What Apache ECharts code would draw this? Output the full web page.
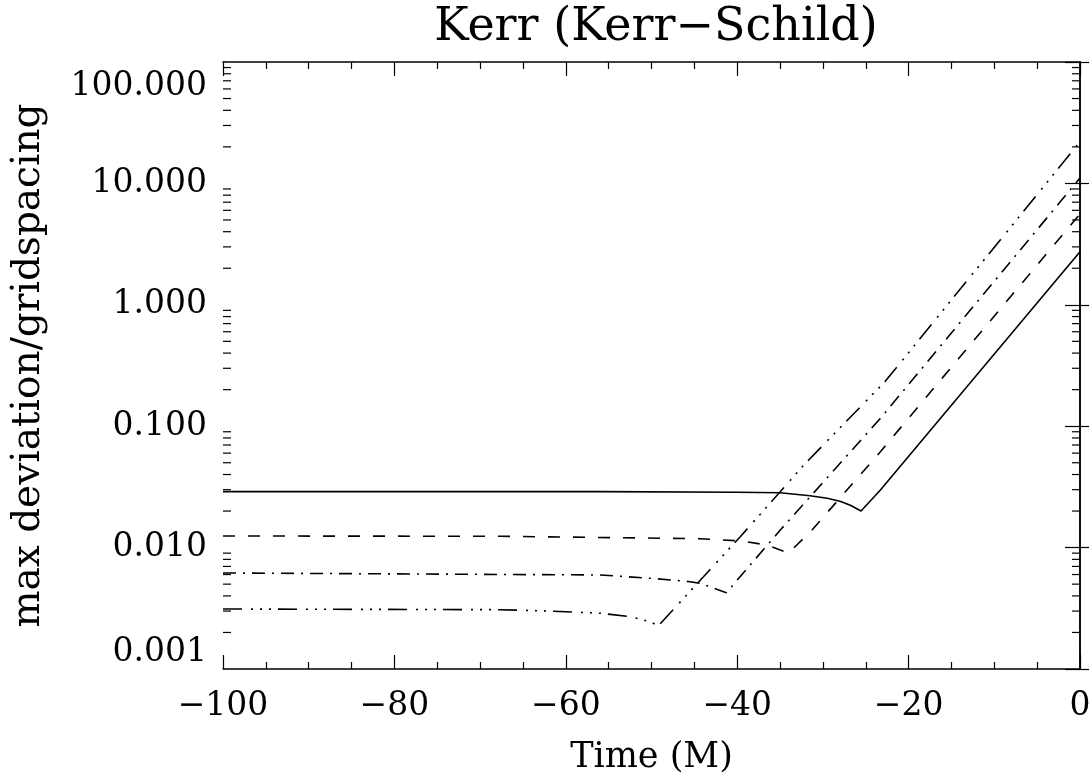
<!DOCTYPE html>
<html><head><meta charset="utf-8">
<script src="https://cdn.jsdelivr.net/npm/echarts@6/dist/echarts.min.js"></script>
<style>html,body{margin:0;padding:0;background:#fff}#c{width:1089px;height:774px}</style>
</head><body><div id="c"></div>
<script>
const titleText = 'Kerr (Kerr\u2212Schild)';
const xName = 'Time (M)';
const yName = 'max deviation/gridspacing';
const xMin = -100, xMax = 0, xStep = 20;
const yMin = 0.001, yMax = 100;
const yDecades = [0.001, 0.01, 0.1, 1, 10];
const yMinorMantissas = [2, 3, 4, 5, 6, 7, 8, 9];

// solid
const solidT = [-100, -56, -40, -35, -31.5, -29.5, -28, -26.8, -25.55, -23.29, 0];
const solidV = [0.0289, 0.0289, 0.0286, 0.0283, 0.0267, 0.0255, 0.0241, 0.0223, 0.0200, 0.0298, 2.74];
// dashed
const dashT = [-100, -67.7, -44.3, -39.6, -36.5, -34.0, -31.27, -23.29, 0];
const dashV = [0.01246, 0.0124, 0.01184, 0.01134, 0.0105, 0.00902, 0.01396, 0.0616, 5.6];
// dash-dot
const ddT = [-100, -56, -50.15, -45.5, -44.3, -41.27, -34.97, -23.29, 0];
const ddV = [0.00618, 0.00595, 0.00559, 0.00524, 0.00508, 0.00425, 0.01396, 0.116, 11.07];
// dash-dot-dot-dot
const d3T = [-100, -67.7, -61.8, -56, -52.5, -50.15, -49.2, -39.64, -32.05, -22.75, 0];
const d3V = [0.00312, 0.00308, 0.00300, 0.00288, 0.0027, 0.00245, 0.00227, 0.0123, 0.0494, 0.233, 22.0];

const zip = (t, v) => t.map((x, i) => [x, v[i]]);
const minorData = [];
yDecades.forEach(d => yMinorMantissas.forEach(m => minorData.push([xMin, d * m])));

const FONT = 'DejaVu Serif';
const axisLineStyle = { lineStyle: { color: '#000', width: 1.5 } };

const xAxisBase = {
  type: 'value', min: xMin, max: xMax, interval: xStep,
  axisLine: axisLineStyle, splitLine: { show: false },
  axisTick: { inside: true, length: 14, lineStyle: { color: '#000', width: 1.2 } },
  minorTick: { show: true, splitNumber: 4, length: 7, lineStyle: { color: '#000', width: 1.2 } },
  minorSplitLine: { show: false }
};
const yAxisBase = {
  type: 'log', logBase: 10, min: yMin, max: yMax, splitNumber: 5,
  axisLine: axisLineStyle, splitLine: { show: false },
  axisTick: { inside: true, length: 15, lineStyle: { color: '#000', width: 1.2 } },
  minorTick: { show: false }
};

const chart = echarts.init(document.getElementById('c'), null, { renderer: 'canvas' });
chart.setOption({
  animation: false,
  backgroundColor: '#fff',
  title: {
    text: titleText, left: 651, top: 0, textAlign: 'center',
    textStyle: { fontFamily: FONT, fontSize: 46, fontWeight: 'normal', color: '#000' }
  },
  grid: { left: 223, right: 9, top: 62, bottom: 105, containLabel: false, outerBoundsMode: 'none' },
  xAxis: [
    Object.assign({}, xAxisBase, {
      position: 'bottom',
      name: xName, nameLocation: 'middle', nameGap: 71,
      nameTextStyle: { fontFamily: FONT, fontSize: 35, color: '#000' },
      axisLabel: {
        margin: 21, color: '#000', fontFamily: FONT, fontSize: 33,
        formatter: v => (v < 0 ? '\u2212' + Math.abs(v) : String(v))
      }
    }),
    Object.assign({}, xAxisBase, { position: 'top', axisLabel: { show: false } })
  ],
  yAxis: [
    Object.assign({}, yAxisBase, {
      position: 'left',
      name: yName, nameLocation: 'middle', nameGap: 175, nameRotate: 90,
      nameTextStyle: { fontFamily: FONT, fontSize: 39, color: '#000' },
      axisLabel: {
        margin: 16, color: '#000', fontFamily: FONT, fontSize: 33,
        padding: [8, 0, 0, 0],
        verticalAlignMinLabel: 'bottom', verticalAlignMaxLabel: 'top',
        formatter: v => Number(v).toFixed(3)
      }
    }),
    Object.assign({}, yAxisBase, { position: 'right', axisLabel: { show: false } })
  ],
  series: [
    { type: 'line', data: zip(solidT, solidV), showSymbol: false, symbol: 'none',
      lineStyle: { color: '#000', width: 1.6, type: 'solid' } },
    { type: 'line', data: zip(dashT, dashV), showSymbol: false, symbol: 'none',
      lineStyle: { color: '#000', width: 1.6, type: [12, 13] } },
    { type: 'line', data: zip(ddT, ddV), showSymbol: false, symbol: 'none',
      lineStyle: { color: '#000', width: 1.6, type: [13, 7, 2, 7] } },
    { type: 'line', data: zip(d3T, d3V), showSymbol: false, symbol: 'none',
      lineStyle: { color: '#000', width: 1.6, type: [19, 9, 2, 7, 2, 7, 2, 7] } },
    { type: 'custom', data: minorData, clip: false, silent: true,
      encode: { x: 0, y: 1 },
      renderItem: (params, api) => {
        const v = api.value(1);
        const p = api.coord([xMin, v]);
        const q = api.coord([xMax, v]);
        return { type: 'group', children: [
          { type: 'line', shape: { x1: p[0], y1: p[1], x2: p[0] + 8, y2: p[1] }, style: { stroke: '#000', lineWidth: 1.2 } },
          { type: 'line', shape: { x1: q[0] - 8, y1: q[1], x2: q[0], y2: q[1] }, style: { stroke: '#000', lineWidth: 1.2 } }
        ] };
      } }
  ]
});
</script></body></html>
